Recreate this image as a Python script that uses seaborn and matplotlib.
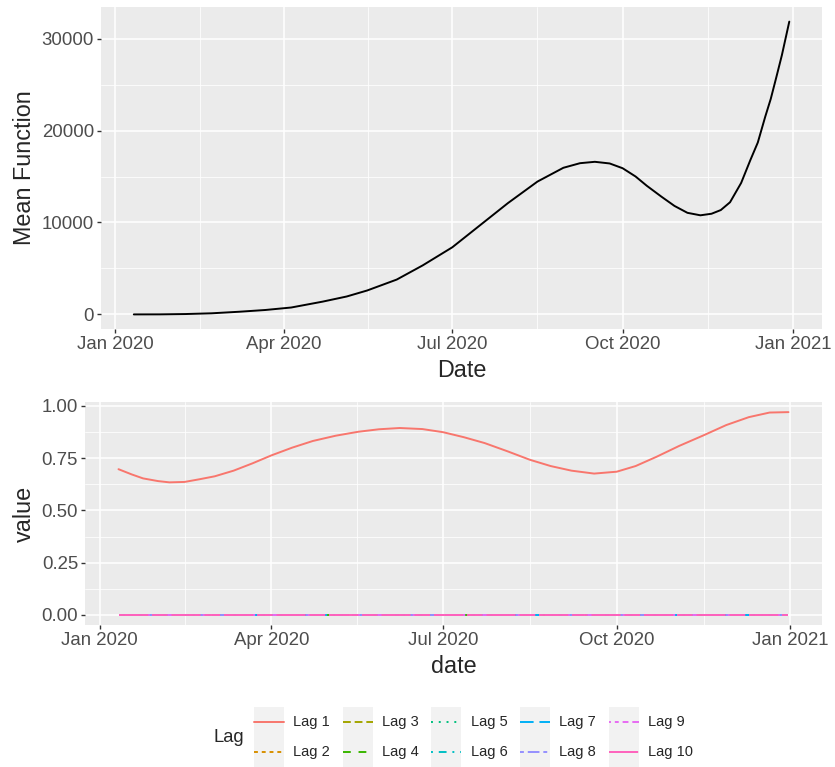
#%% data
import pandas as pd
import seaborn as sns
import matplotlib.pyplot as plt
import matplotlib.dates as mdates
from matplotlib.ticker import FixedLocator, MultipleLocator
from matplotlib.lines import Line2D
from matplotlib.patches import Rectangle
from matplotlib.legend_handler import HandlerLine2D

mean_dates = ['2020-01-11', '2020-01-25', '2020-02-08', '2020-02-22', '2020-03-08',
              '2020-03-22', '2020-04-05', '2020-04-22', '2020-05-05', '2020-05-16',
              '2020-06-01', '2020-06-15', '2020-07-01', '2020-07-16', '2020-07-31',
              '2020-08-16', '2020-08-30', '2020-09-08', '2020-09-16', '2020-09-24',
              '2020-10-01', '2020-10-08', '2020-10-14', '2020-10-22', '2020-10-29',
              '2020-11-05', '2020-11-12', '2020-11-18', '2020-11-23', '2020-11-28',
              '2020-12-04', '2020-12-09', '2020-12-13', '2020-12-17', '2020-12-20',
              '2020-12-23', '2020-12-26', '2020-12-30']
mean_vals = [0, 5, 40, 120, 290,
             480, 750, 1390, 1950, 2600,
             3790, 5330, 7300, 9700, 12100,
             14450, 15950, 16450, 16600, 16420,
             15900, 15000, 14000, 12800, 11800,
             11050, 10780, 10950, 11350, 12200,
             14300, 16800, 18700, 21500, 23450,
             25800, 28200, 31850]

lag_dates = ['2020-01-11', '2020-01-18', '2020-01-24', '2020-02-01', '2020-02-07',
             '2020-02-15', '2020-02-23', '2020-03-02', '2020-03-12', '2020-03-22',
             '2020-04-01', '2020-04-12', '2020-04-23', '2020-05-05', '2020-05-17',
             '2020-05-28', '2020-06-08', '2020-06-20', '2020-07-01', '2020-07-12',
             '2020-07-23', '2020-08-04', '2020-08-16', '2020-08-27', '2020-09-07',
             '2020-09-19', '2020-10-01', '2020-10-11', '2020-10-22', '2020-11-03',
             '2020-11-16', '2020-11-28', '2020-12-10', '2020-12-21', '2020-12-31']
lag1_vals = [0.697, 0.672, 0.653, 0.640, 0.634,
             0.636, 0.649, 0.663, 0.690, 0.725,
             0.763, 0.800, 0.832, 0.857, 0.876,
             0.888, 0.894, 0.889, 0.874, 0.850,
             0.822, 0.783, 0.742, 0.712, 0.690,
             0.676, 0.685, 0.712, 0.756, 0.808,
             0.859, 0.908, 0.946, 0.968, 0.970]
lag_names = ['Lag %d' % i for i in range(1, 11)]
lag_colors = ['#F8766D', '#D89000', '#A3A500', '#39B600', '#00BF7D',
              '#00BFC4', '#00B0F6', '#9590FF', '#E76BF3', '#FF62BC']
lag_dashes = ['', (2, 2), (4, 2), (4, 4), (1, 3), (1, 3, 4, 3), (7, 3),
              (2, 2, 6, 2), (1, 2, 2, 2, 3, 2, 4, 2), (15, 2, 8, 2)]

df_m = pd.DataFrame({'Date': pd.to_datetime(mean_dates), 'Mean Function': mean_vals})
rows = []
for name in lag_names:
    vals = lag1_vals if name == 'Lag 1' else [0.0] * len(lag_dates)
    rows.append(pd.DataFrame({'date': pd.to_datetime(lag_dates), 'value': vals, 'Lag': name}))
df_l = pd.concat(rows, ignore_index=True)

#%% style
sns.set_theme(style='darkgrid', rc={'axes.facecolor': '#EBEBEB', 'grid.color': 'white',
                                    'axes.edgecolor': '#EBEBEB'})
plt.rcParams['font.family'] = ['Liberation Sans', 'DejaVu Sans']

fig = plt.figure(figsize=(8.35, 7.67), dpi=100)
ax1 = fig.add_axes([0.121, 0.571, 0.8635, 0.4199])
ax2 = fig.add_axes([0.1018, 0.1851, 0.8826, 0.2908])

sns.lineplot(data=df_m, x='Date', y='Mean Function', color='black', lw=1.4, ax=ax1)
sns.lineplot(data=df_l, x='date', y='value', hue='Lag', style='Lag', hue_order=lag_names,
             style_order=lag_names, palette=dict(zip(lag_names, lag_colors)),
             dashes=dict(zip(lag_names, lag_dashes)), lw=1.4, legend=False, ax=ax2)

majors = pd.to_datetime(['2020-01-01', '2020-04-01', '2020-07-01', '2020-10-01', '2021-01-01'])
mnum = mdates.date2num(majors)
minors = (mnum[:-1] + mnum[1:]) / 2

for ax in (ax1, ax2):
    ax.xaxis.set_major_locator(FixedLocator(mnum))
    ax.xaxis.set_minor_locator(FixedLocator(minors))
    ax.xaxis.set_major_formatter(mdates.DateFormatter('%b %Y'))
    ax.grid(which='major', color='white', lw=1.1)
    ax.grid(which='minor', color='white', lw=0.55)
    ax.tick_params(which='major', direction='out', length=3, width=1, color='#333333',
                   labelcolor='#4D4D4D', labelsize=13.4, pad=2, bottom=True, left=True)
    ax.tick_params(which='minor', length=0)
    for s in ax.spines.values():
        s.set_visible(False)
    ax.xaxis.label.set_size(16.8)
    ax.yaxis.label.set_size(16.8)
    ax.xaxis.labelpad = 4
    ax.yaxis.labelpad = 4

ax1.yaxis.set_major_locator(MultipleLocator(10000))
ax1.yaxis.set_minor_locator(MultipleLocator(5000))
ax2.yaxis.set_major_locator(MultipleLocator(0.25))
ax2.yaxis.set_minor_locator(MultipleLocator(0.125))
ax2.yaxis.set_major_formatter(lambda v, p: '%.2f' % v)
ax1.margins(x=0.05, y=0.05)
ax2.margins(x=0.05, y=0.05)


#%% legend with grey key boxes
class KeyBox(HandlerLine2D):
    def create_artists(self, legend, orig_handle, xdescent, ydescent, width, height, fontsize, trans):
        arts = super().create_artists(legend, orig_handle, xdescent, ydescent, width, height, fontsize, trans)
        mid = height / 2 - ydescent
        for a in arts:
            if isinstance(a, Line2D):
                a.set_ydata([mid] * len(a.get_xdata()))
        box = Rectangle((-xdescent, -ydescent), width, height, facecolor='#F2F2F2',
                        edgecolor='none', transform=trans)
        return [box] + list(arts)


handles = []
for c, d in zip(lag_colors, lag_dashes):
    h = Line2D([], [], color=c, lw=1.4)
    if d:
        h.set_dashes(d)
    handles.append(h)

fs = 10.5
fpx = fs * 100 / 72
fig.legend(handles, lag_names, ncol=5, loc='lower left', bbox_to_anchor=(254 / 835, 0.0),
           frameon=False, fontsize=fs, handlelength=30 / fpx, handleheight=2.79,
           handletextpad=0.65, columnspacing=0.85, labelspacing=0, borderpad=0, borderaxespad=0,
           handler_map={Line2D: KeyBox(marker_pad=0.2)})
fig.text(213 / 835, 1 - 737 / 767, 'Lag', fontsize=13.2, va='center', ha='left')

fig.savefig('out.png', dpi=100)
